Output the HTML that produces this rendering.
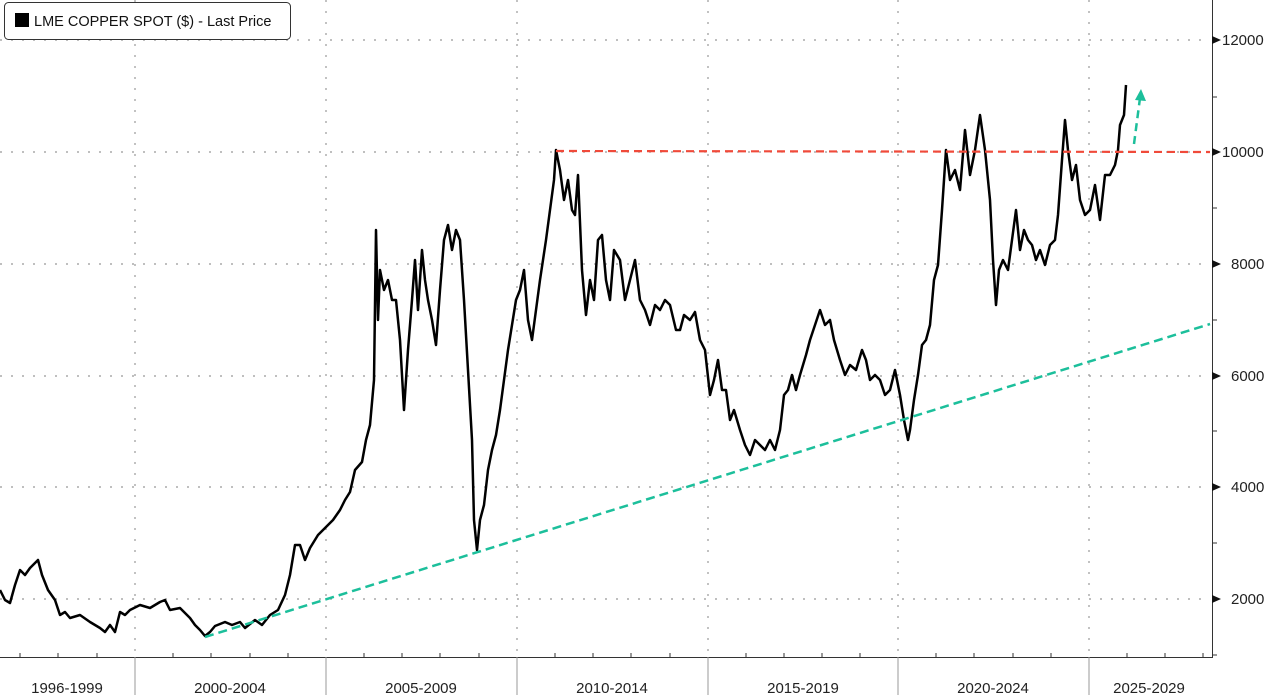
<!DOCTYPE html>
<html><head><style>
body{margin:0;background:#fff;}
svg{display:block;font-family:"Liberation Sans",sans-serif;}
</style></head><body>
<svg width="1280" height="695" viewBox="0 0 1280 695">
<g stroke="#999" stroke-width="1.2" stroke-dasharray="2,9">
<line x1="0" y1="40" x2="1210" y2="40"/><line x1="0" y1="152" x2="1210" y2="152"/>
<line x1="0" y1="264" x2="1210" y2="264"/><line x1="0" y1="376" x2="1210" y2="376"/>
<line x1="0" y1="487" x2="1210" y2="487"/><line x1="0" y1="599" x2="1210" y2="599"/>
<line x1="135" y1="0" x2="135" y2="657"/><line x1="326" y1="0" x2="326" y2="657"/>
<line x1="517" y1="0" x2="517" y2="657"/><line x1="708" y1="0" x2="708" y2="657"/>
<line x1="898" y1="0" x2="898" y2="657"/><line x1="1089" y1="0" x2="1089" y2="657"/>
</g>
<g stroke="#333" stroke-width="1">
<line x1="0" y1="657.5" x2="1212" y2="657.5"/>
<line x1="1212.5" y1="0" x2="1212.5" y2="658"/>
<line x1="135" y1="657" x2="135" y2="695" stroke="#999"/><line x1="326" y1="657" x2="326" y2="695" stroke="#999"/>
<line x1="517" y1="657" x2="517" y2="695" stroke="#999"/><line x1="708" y1="657" x2="708" y2="695" stroke="#999"/>
<line x1="898" y1="657" x2="898" y2="695" stroke="#999"/><line x1="1089" y1="657" x2="1089" y2="695" stroke="#999"/>
<path d="M20 657v-4M58 657v-4M97 657v-4M173 657v-4M211 657v-4M250 657v-4M288 657v-4M364 657v-4M402 657v-4M440 657v-4M479 657v-4M555 657v-4M593 657v-4M631 657v-4M670 657v-4M746 657v-4M784 657v-4M822 657v-4M860 657v-4M936 657v-4M974 657v-4M1013 657v-4M1051 657v-4M1127 657v-4M1165 657v-4M1203 657v-4"/>
<path d="M1212 97h5M1212 208h5M1212 320h5M1212 431h5M1212 543h5M1212 655h5"/>
</g>
<g fill="#111"><path d="M1212 36l9 4l-9 4z"/><path d="M1212 148l9 4l-9 4z"/><path d="M1212 260l9 4l-9 4z"/><path d="M1212 372l9 4l-9 4z"/><path d="M1212 483l9 4l-9 4z"/><path d="M1212 595l9 4l-9 4z"/></g>
<g font-size="15" fill="#222">
<text x="1222" y="45">12000</text><text x="1222" y="157">10000</text><text x="1231" y="269">8000</text>
<text x="1231" y="381">6000</text><text x="1231" y="492">4000</text><text x="1231" y="604">2000</text>
<g text-anchor="middle"><text x="67" y="693">1996-1999</text><text x="230" y="693">2000-2004</text><text x="421" y="693">2005-2009</text>
<text x="612" y="693">2010-2014</text><text x="803" y="693">2015-2019</text><text x="993" y="693">2020-2024</text><text x="1149" y="693">2025-2029</text></g>
</g>
<polyline fill="none" stroke="#000" stroke-width="2.5" stroke-linejoin="round" points="0,590 5,600 10,603 15,585 20,570 25,575 30,568 38,560 42,575 48,590 55,600 60,615 65,612 70,618 80,615 90,622 100,628 105,632 110,625 115,632 120,612 125,615 130,610 140,605 150,608 160,602 165,600 170,610 180,608 190,618 195,625 200,630 205,636 210,632 215,626 225,622 232,625 240,622 245,628 255,620 262,625 270,615 278,610 285,595 290,575 295,545 300,545 305,560 310,548 318,535 325,528 333,520 340,510 345,500 350,492 355,470 362,462 366,440 370,425 374,380 376,230 378,320 380,270 384,290 388,280 392,300 396,300 400,340 404,410 408,350 412,300 415,260 418,310 422,250 425,280 428,300 432,320 436,345 440,290 444,240 448,225 452,250 456,230 460,240 464,300 468,370 472,440 474,520 477,550 480,520 484,505 488,470 492,450 496,435 500,410 504,380 508,350 512,325 516,300 520,290 524,270 528,320 532,340 536,310 540,280 546,240 550,210 554,180 556,150 560,170 564,200 568,180 572,210 575,215 578,175 582,270 586,315 590,280 594,300 598,240 602,235 606,280 610,300 614,250 620,260 625,300 630,280 635,260 640,300 645,310 650,325 655,305 660,310 665,300 670,305 676,330 680,330 684,315 690,320 695,312 700,340 705,350 710,395 714,380 718,360 722,390 726,390 730,420 734,410 740,430 745,445 750,455 755,440 760,445 765,450 770,440 775,450 780,430 784,395 788,390 792,375 796,390 800,375 806,355 810,340 815,325 820,310 825,325 830,320 834,340 840,360 845,375 850,365 856,370 862,350 866,360 870,380 875,375 880,380 885,395 890,390 895,370 900,395 904,420 908,440 910,430 914,400 918,375 922,345 926,340 930,325 934,280 938,265 942,210 946,150 950,180 955,170 960,190 965,130 970,175 975,150 980,115 985,150 990,200 993,260 996,305 999,270 1003,260 1008,270 1012,240 1016,210 1020,250 1024,230 1028,240 1032,245 1036,260 1040,250 1045,265 1050,245 1055,240 1058,215 1062,160 1065,120 1068,150 1072,180 1076,165 1080,200 1085,215 1090,210 1095,185 1100,220 1105,175 1110,175 1115,165 1118,150 1120,125 1124,115 1126,85"/>
<line x1="556" y1="151" x2="1210" y2="152" stroke="#f04a3a" stroke-width="2.2" stroke-dasharray="8,5"/>
<line x1="205" y1="637" x2="1210" y2="324" stroke="#1cbf9b" stroke-width="2.5" stroke-dasharray="9,5"/>
<line x1="1134" y1="144" x2="1140" y2="98" stroke="#1cbf9b" stroke-width="2.5" stroke-dasharray="8,5"/>
<path d="M1135 100l6 -11l5 12z" fill="#1cbf9b"/>
<rect x="4.5" y="2.5" width="286" height="37" rx="4" fill="#fff" stroke="#333"/>
<rect x="15" y="13" width="14" height="14" fill="#000"/>
<text x="34" y="26" font-size="14.5" fill="#111">LME COPPER SPOT ($) - Last Price</text>
</svg>
</body></html>
